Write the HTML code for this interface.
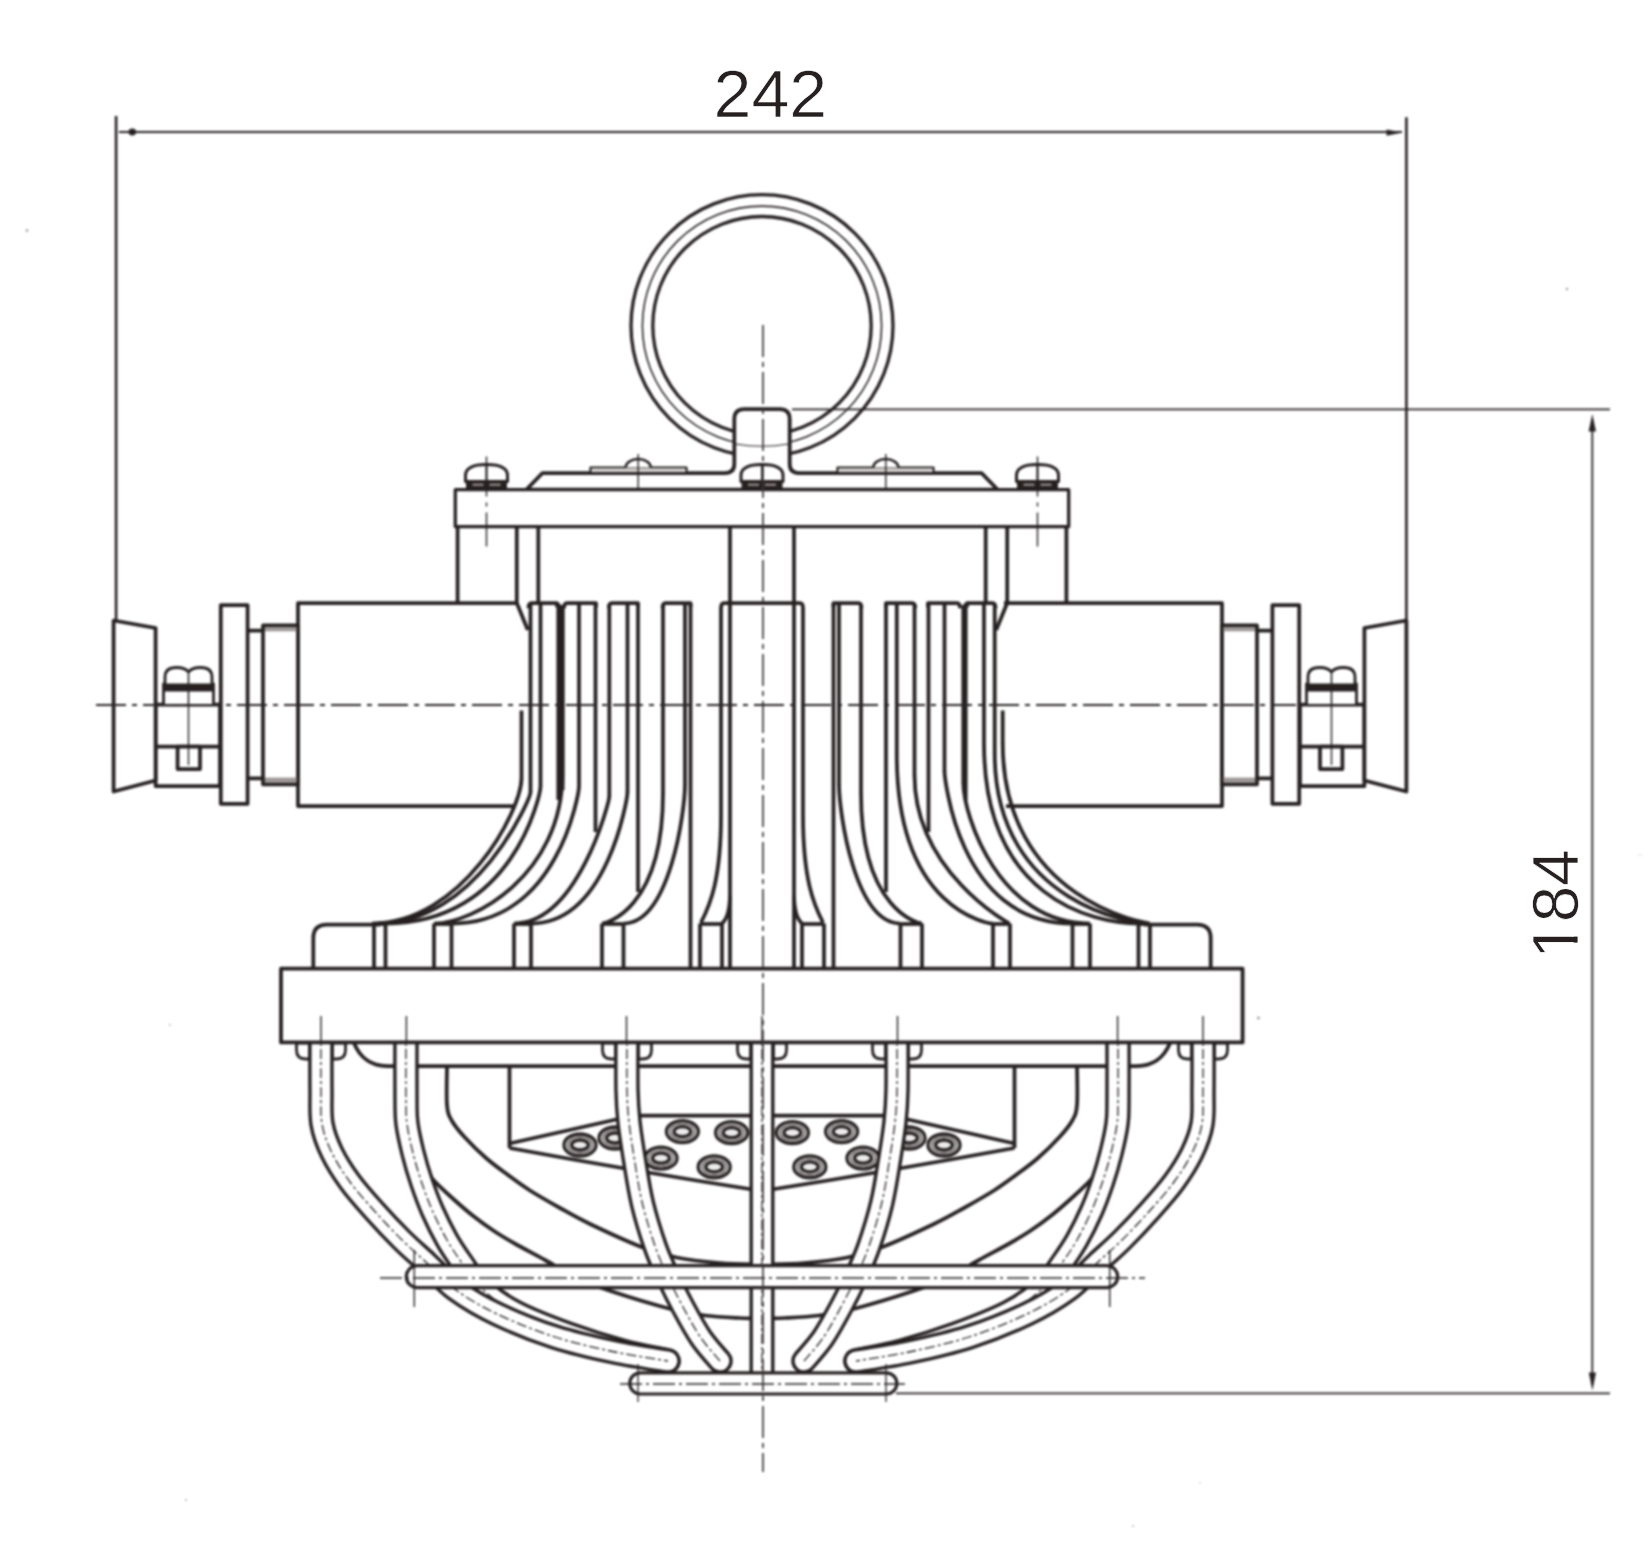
<!DOCTYPE html>
<html><head><meta charset="utf-8"><title>drawing</title>
<style>html,body{margin:0;padding:0;background:#fff;}svg{display:block;}</style></head>
<body><svg width="1650" height="1552" viewBox="0 0 1650 1552">
<defs><filter id="soft" x="0" y="0" width="1650" height="1552" filterUnits="userSpaceOnUse" color-interpolation-filters="sRGB"><feGaussianBlur stdDeviation="0.8"/></filter></defs>
<rect width="1650" height="1552" fill="#fff"/>
<g stroke="#262021" stroke-linecap="butt" stroke-linejoin="round" fill="none" filter="url(#soft)">
<circle cx="27" cy="230.5" r="1.3" fill="#9a9595" stroke="none"/><circle cx="1567" cy="289" r="1.2" fill="#a09a9a" stroke="none"/><circle cx="186" cy="1500" r="1.0" fill="#b0abab" stroke="none"/><circle cx="1200" cy="1483" r="0.8" fill="#bbb" stroke="none"/><circle cx="1133" cy="1526" r="0.9" fill="#b5b0b0" stroke="none"/><circle cx="1258.5" cy="1018" r="1.3" fill="#8a8585" stroke="none"/><circle cx="1640" cy="855" r="0.8" fill="#c0c0c0" stroke="none"/><circle cx="170" cy="1025" r="0.9" fill="#b0b0b0" stroke="none"/><line x1="119" y1="132" x2="1402" y2="132" stroke-width="2.2" /><ellipse cx="132.3" cy="132" rx="3.8" ry="3.4" fill="#262021" stroke="none"/><polygon points="1402.5,132.6 1386.5,129.6 1386.5,135.8" fill="#262021" stroke="none"/><line x1="116.1" y1="116" x2="116.1" y2="622" stroke-width="2.6" /><line x1="1406.4" y1="117.3" x2="1406.4" y2="621" stroke-width="2.6" /><line x1="792" y1="409.3" x2="1610" y2="409.3" stroke-width="1.7" /><line x1="896" y1="1393.3" x2="1610" y2="1393.3" stroke-width="1.7" /><line x1="1592.3" y1="420" x2="1592.3" y2="1385" stroke-width="1.8" /><polygon points="1592.3,414 1588.6,431.5 1596,431.5" fill="#262021" stroke="none"/><polygon points="1592.4,1390.5 1588.8,1372.5 1596,1372.5" fill="#262021" stroke="none"/><circle cx="762" cy="325.7" r="131" stroke-width="3.3" fill="none"/><circle cx="762" cy="325.7" r="119.6" stroke-width="1.6" fill="none"/><circle cx="762" cy="325.7" r="109.2" stroke-width="3.3" fill="none"/><path d="M526.5,489.5 L542.5,473 L725,473 Q734.3,473 734.3,464 L734.3,419 Q734.3,409 744.3,409 L779.7,409 Q789.7,409 789.7,419 L789.7,464 Q789.7,473 799,473 L981.5,473 L997.5,489.5 Z" stroke-width="3.75" fill="#fff" /><path d="M735.5,444 Q762,448.5 788.5,444" stroke-width="1.2" fill="none" /><rect x="590.5" y="467.5" width="96" height="5.5" stroke-width="2.2" fill="#fff" /><line x1="592.5" y1="470.5" x2="684.5" y2="470.5" stroke-width="1.2" stroke="#9a9290"/><path d="M625.7,467.5 A12.5,8.5 0 0 1 650.7,467.5" stroke-width="2.6" fill="#fff" /><line x1="638.2" y1="454" x2="638.2" y2="506" stroke-width="1.4" /><rect x="837.5" y="467.5" width="96" height="5.5" stroke-width="2.2" fill="#fff" /><line x1="839.5" y1="470.5" x2="931.5" y2="470.5" stroke-width="1.2" stroke="#9a9290"/><path d="M873.3,467.5 A12.5,8.5 0 0 1 898.3,467.5" stroke-width="2.6" fill="#fff" /><line x1="885.8" y1="454" x2="885.8" y2="506" stroke-width="1.4" /><rect x="455.3" y="489.7" width="613.4" height="37" stroke-width="3.3" fill="#fff" /><path d="M465.5,481.5 L465.5,475.5 Q465.5,464.5 486.5,464.5 Q507.5,464.5 507.5,475.5 L507.5,481.5 Z" stroke-width="3.0" fill="#fff" /><rect x="466" y="480.5" width="41" height="9" stroke-width="0" fill="#262021" stroke="none"/><rect x="472.5" y="483.5" width="11" height="2.5" stroke-width="0" fill="#8a8280" stroke="none"/><rect x="489.5" y="483.5" width="11" height="2.5" stroke-width="0" fill="#8a8280" stroke="none"/><line x1="486.5" y1="463.5" x2="486.5" y2="481.5" stroke-width="2.0" /><line x1="486.5" y1="456.5" x2="486.5" y2="546.5" stroke-width="1.4" stroke-dasharray="40 6 4 6 60"/><path d="M1016.5,481.5 L1016.5,475.5 Q1016.5,464.5 1037.5,464.5 Q1058.5,464.5 1058.5,475.5 L1058.5,481.5 Z" stroke-width="3.0" fill="#fff" /><rect x="1017" y="480.5" width="41" height="9" stroke-width="0" fill="#262021" stroke="none"/><rect x="1023.5" y="483.5" width="11" height="2.5" stroke-width="0" fill="#8a8280" stroke="none"/><rect x="1040.5" y="483.5" width="11" height="2.5" stroke-width="0" fill="#8a8280" stroke="none"/><line x1="1037.5" y1="463.5" x2="1037.5" y2="481.5" stroke-width="2.0" /><line x1="1037.5" y1="456.5" x2="1037.5" y2="546.5" stroke-width="1.4" stroke-dasharray="40 6 4 6 60"/><path d="M741,481.5 L741,475.5 Q741,464.5 762,464.5 Q783,464.5 783,475.5 L783,481.5 Z" stroke-width="3.0" fill="#fff" /><rect x="741.5" y="480.5" width="41" height="9" stroke-width="0" fill="#262021" stroke="none"/><rect x="748" y="483.5" width="11" height="2.5" stroke-width="0" fill="#8a8280" stroke="none"/><rect x="765" y="483.5" width="11" height="2.5" stroke-width="0" fill="#8a8280" stroke="none"/><line x1="762" y1="463.5" x2="762" y2="481.5" stroke-width="2.0" /><line x1="457.6" y1="527" x2="457.6" y2="603" stroke-width="3.75" /><path d="M516.8,527 L516.8,603 L527.8,630" stroke-width="3.75" fill="none" /><line x1="538.3" y1="527" x2="538.3" y2="603" stroke-width="3.75" /><line x1="730" y1="527" x2="730" y2="968" stroke-width="3.75" /><path d="M528.5,608.2 Q528.5,603.2 531.5,603.2 L557,603.2 L557,607.2" stroke-width="3.75" fill="none" /><path d="M564,608.2 Q564,603.2 567,603.2 L596,603.2 L596,607.2" stroke-width="3.75" fill="none" /><path d="M608.8,608.2 Q608.8,603.2 611.8,603.2 L638,603.2 L638,607.2" stroke-width="3.75" fill="none" /><path d="M662.5,608.2 Q662.5,603.2 665.5,603.2 L690.5,603.2 L690.5,607.2" stroke-width="3.75" fill="none" /><path d="M721,608.2 Q721,603.2 724,603.2 L762,603.2" stroke-width="3.75" fill="none" /><line x1="558.3" y1="603" x2="558.3" y2="800" stroke-width="3.75" /><line x1="595.5" y1="603" x2="595.5" y2="832" stroke-width="3.75" /><line x1="638" y1="603" x2="638" y2="892" stroke-width="3.75" /><line x1="690.5" y1="603" x2="690.5" y2="968" stroke-width="3.75" /><path d="M721,608 L721,815 C721,880 710,905 701,922.5" stroke-width="3.75" fill="none" /><path d="M730,896 Q729.5,917 722,923.5" stroke-width="3.75" fill="none" /><path d="M313.3,968 L313.3,938 Q313.3,924.5 327,924.5 L380,924.5" stroke-width="3.75" fill="none" /><line x1="374" y1="923.5" x2="374" y2="968" stroke-width="3.75" /><line x1="385.5" y1="923.5" x2="385.5" y2="968" stroke-width="3.75" /><line x1="374" y1="924" x2="385.5" y2="924" stroke-width="3.75" /><line x1="434" y1="923.5" x2="434" y2="968" stroke-width="3.75" /><line x1="451.5" y1="923.5" x2="451.5" y2="968" stroke-width="3.75" /><line x1="434" y1="924" x2="451.5" y2="924" stroke-width="3.75" /><line x1="514" y1="923.5" x2="514" y2="968" stroke-width="3.75" /><line x1="531" y1="923.5" x2="531" y2="968" stroke-width="3.75" /><line x1="514" y1="924" x2="531" y2="924" stroke-width="3.75" /><line x1="602" y1="923.5" x2="602" y2="968" stroke-width="3.75" /><line x1="623.5" y1="923.5" x2="623.5" y2="968" stroke-width="3.75" /><line x1="602" y1="924" x2="623.5" y2="924" stroke-width="3.75" /><line x1="700" y1="923.5" x2="700" y2="968" stroke-width="3.75" /><line x1="722" y1="923.5" x2="722" y2="968" stroke-width="3.75" /><line x1="700" y1="924" x2="722" y2="924" stroke-width="3.75" /><g transform="matrix(-1 0 0 1 1524 0)"><line x1="457.6" y1="527" x2="457.6" y2="603" stroke-width="3.75" /><path d="M516.8,527 L516.8,603 L527.8,630" stroke-width="3.75" fill="none" /><line x1="538.3" y1="527" x2="538.3" y2="603" stroke-width="3.75" /><line x1="730" y1="527" x2="730" y2="968" stroke-width="3.75" /><path d="M528.5,608.2 Q528.5,603.2 531.5,603.2 L557,603.2 L557,607.2" stroke-width="3.75" fill="none" /><path d="M564,608.2 Q564,603.2 567,603.2 L596,603.2 L596,607.2" stroke-width="3.75" fill="none" /><path d="M608.8,608.2 Q608.8,603.2 611.8,603.2 L638,603.2 L638,607.2" stroke-width="3.75" fill="none" /><path d="M662.5,608.2 Q662.5,603.2 665.5,603.2 L690.5,603.2 L690.5,607.2" stroke-width="3.75" fill="none" /><path d="M721,608.2 Q721,603.2 724,603.2 L762,603.2" stroke-width="3.75" fill="none" /><line x1="558.3" y1="603" x2="558.3" y2="800" stroke-width="3.75" /><line x1="595.5" y1="603" x2="595.5" y2="832" stroke-width="3.75" /><line x1="638" y1="603" x2="638" y2="892" stroke-width="3.75" /><line x1="690.5" y1="603" x2="690.5" y2="968" stroke-width="3.75" /><path d="M721,608 L721,815 C721,880 710,905 701,922.5" stroke-width="3.75" fill="none" /><path d="M730,896 Q729.5,917 722,923.5" stroke-width="3.75" fill="none" /><path d="M313.3,968 L313.3,938 Q313.3,924.5 327,924.5 L380,924.5" stroke-width="3.75" fill="none" /><line x1="374" y1="923.5" x2="374" y2="968" stroke-width="3.75" /><line x1="385.5" y1="923.5" x2="385.5" y2="968" stroke-width="3.75" /><line x1="374" y1="924" x2="385.5" y2="924" stroke-width="3.75" /><line x1="434" y1="923.5" x2="434" y2="968" stroke-width="3.75" /><line x1="451.5" y1="923.5" x2="451.5" y2="968" stroke-width="3.75" /><line x1="434" y1="924" x2="451.5" y2="924" stroke-width="3.75" /><line x1="514" y1="923.5" x2="514" y2="968" stroke-width="3.75" /><line x1="531" y1="923.5" x2="531" y2="968" stroke-width="3.75" /><line x1="514" y1="924" x2="531" y2="924" stroke-width="3.75" /><line x1="602" y1="923.5" x2="602" y2="968" stroke-width="3.75" /><line x1="623.5" y1="923.5" x2="623.5" y2="968" stroke-width="3.75" /><line x1="602" y1="924" x2="623.5" y2="924" stroke-width="3.75" /><line x1="700" y1="923.5" x2="700" y2="968" stroke-width="3.75" /><line x1="722" y1="923.5" x2="722" y2="968" stroke-width="3.75" /><line x1="700" y1="924" x2="722" y2="924" stroke-width="3.75" /></g><line x1="521.5" y1="710.5" x2="521.5" y2="778.4" stroke-width="3.75" /><path d="M521.5,777.9 C521.5,811.2 461.3,923.5 372,923.5" stroke-width="3.75" fill="none" /><line x1="530.5" y1="605" x2="530.5" y2="792.2" stroke-width="3.75" /><path d="M530.5,791.7 C530.5,799.6 475.9,923.5 378,923.5" stroke-width="3.75" fill="none" /><line x1="540.5" y1="605" x2="540.5" y2="786.7" stroke-width="3.75" /><path d="M540.5,786.2 C540.5,794.4 513.3,923.5 386,923.5" stroke-width="3.75" fill="none" /><line x1="562.5" y1="605" x2="562.5" y2="773.8" stroke-width="3.75" /><path d="M562.5,773.3 C562.5,875.3 472.9,923.5 434,923.5" stroke-width="3.75" fill="none" /><line x1="579" y1="605" x2="579" y2="786.8" stroke-width="3.75" /><path d="M579,786.3 C579,793.2 557.9,923.5 452,923.5" stroke-width="3.75" fill="none" /><line x1="609.3" y1="605" x2="609.3" y2="796.6" stroke-width="3.75" /><path d="M609.3,796.1 C609.3,802.5 577.7,923.5 514,923.5" stroke-width="3.75" fill="none" /><line x1="627.5" y1="605" x2="627.5" y2="792.2" stroke-width="3.75" /><path d="M627.5,791.7 C627.5,798.8 607.3,923.5 531,923.5" stroke-width="3.75" fill="none" /><line x1="663" y1="605" x2="663" y2="793.5" stroke-width="3.75" /><path d="M663,793 C663,911.2 605,923.5 602,923.5" stroke-width="3.75" fill="none" /><line x1="685" y1="605" x2="685" y2="785" stroke-width="3.75" /><path d="M685,784.5 C685,810.6 669.9,923.5 623.5,923.5" stroke-width="3.75" fill="none" /><line x1="1002.7" y1="710.5" x2="1002.7" y2="743.6" stroke-width="3.75" /><path d="M1002.7,743.1 C1002.7,900.2 1147.1,923.5 1150,923.5" stroke-width="3.75" fill="none" /><line x1="994.7" y1="605" x2="994.7" y2="753.9" stroke-width="3.75" /><path d="M994.7,753.4 C994.7,908.5 1141.9,923.5 1146,923.5" stroke-width="3.75" fill="none" /><line x1="984" y1="605" x2="984" y2="744" stroke-width="3.75" /><path d="M984,743.5 C984,897.2 1090.7,923.5 1140,923.5" stroke-width="3.75" fill="none" /><line x1="963.3" y1="605" x2="963.3" y2="782.5" stroke-width="3.75" /><path d="M963.3,782 C963.3,817.1 999.8,923.5 1090,923.5" stroke-width="3.75" fill="none" /><line x1="944.5" y1="605" x2="944.5" y2="771.2" stroke-width="3.75" /><path d="M944.5,770.7 C944.5,773.9 956.4,923.5 1072.5,923.5" stroke-width="3.75" fill="none" /><line x1="914.5" y1="605" x2="914.5" y2="775.4" stroke-width="3.75" /><path d="M914.5,774.9 C914.5,871.2 1008.1,923.5 1010,923.5" stroke-width="3.75" fill="none" /><line x1="896.8" y1="605" x2="896.8" y2="755" stroke-width="3.75" /><path d="M896.8,754.5 C896.8,911.7 989.6,923.5 993,923.5" stroke-width="3.75" fill="none" /><line x1="861" y1="605" x2="861" y2="793.5" stroke-width="3.75" /><path d="M861,793 C861,911.2 919,923.5 922,923.5" stroke-width="3.75" fill="none" /><line x1="839" y1="605" x2="839" y2="785" stroke-width="3.75" /><path d="M839,784.5 C839,810.6 854.1,923.5 900.5,923.5" stroke-width="3.75" fill="none" /><rect x="558.3" y="605" width="6.2" height="185" stroke-width="0" fill="#262021" stroke="none"/><path d="M516,603 L298,603 L298,806 L514,806" stroke-width="3.75" fill="none" /><rect x="263" y="625.3" width="35" height="159" stroke-width="3.75" fill="#fff" /><rect x="265" y="627.3" width="31.5" height="4" stroke-width="0" fill="#9d9797" stroke="none"/><rect x="265" y="777.6" width="31.5" height="4.4" stroke-width="0" fill="#9d9797" stroke="none"/><path d="M263,630.5 L247.6,630.5 M247.6,778.4 L263,778.4" stroke-width="3.75" fill="none" /><rect x="220.8" y="605.2" width="26.8" height="198.6" stroke-width="3.75" fill="#fff" /><rect x="155.6" y="704.5" width="64.4" height="81.5" stroke-width="3.75" fill="#fff" /><line x1="155.6" y1="746.5" x2="220" y2="746.5" stroke-width="3.75" /><rect x="177.6" y="746.5" width="22.4" height="22.5" stroke-width="3.75" fill="#fff" /><line x1="188.5" y1="704.5" x2="188.5" y2="765" stroke-width="1.4" /><path d="M113.6,620.5 L155.6,628 L155.6,780.5 L113.6,791.5 Z" stroke-width="3.75" fill="#fff" /><path d="M163.5,704 L163.5,684 L165,684 L165,677 Q165,667.5 176.5,667.5 Q185,667.5 188.5,672 Q192,667.5 200.5,667.5 Q212,667.5 212,677 L212,684 L213.5,684 L213.5,704" stroke-width="2.8" fill="#fff" /><rect x="164" y="683.5" width="49" height="8" stroke-width="0" fill="#262021" stroke="none"/><line x1="188.5" y1="670" x2="188.5" y2="704" stroke-width="1.6" /><g transform="matrix(-1 0 0 1 1520 0)"><path d="M516,603 L298,603 L298,806 L514,806" stroke-width="3.75" fill="none" /><rect x="263" y="625.3" width="35" height="159" stroke-width="3.75" fill="#fff" /><rect x="265" y="627.3" width="31.5" height="4" stroke-width="0" fill="#9d9797" stroke="none"/><rect x="265" y="777.6" width="31.5" height="4.4" stroke-width="0" fill="#9d9797" stroke="none"/><path d="M263,630.5 L247.6,630.5 M247.6,778.4 L263,778.4" stroke-width="3.75" fill="none" /><rect x="220.8" y="605.2" width="26.8" height="198.6" stroke-width="3.75" fill="#fff" /><rect x="155.6" y="704.5" width="64.4" height="81.5" stroke-width="3.75" fill="#fff" /><line x1="155.6" y1="746.5" x2="220" y2="746.5" stroke-width="3.75" /><rect x="177.6" y="746.5" width="22.4" height="22.5" stroke-width="3.75" fill="#fff" /><line x1="188.5" y1="704.5" x2="188.5" y2="765" stroke-width="1.4" /><path d="M113.6,620.5 L155.6,628 L155.6,780.5 L113.6,791.5 Z" stroke-width="3.75" fill="#fff" /><path d="M163.5,704 L163.5,684 L165,684 L165,677 Q165,667.5 176.5,667.5 Q185,667.5 188.5,672 Q192,667.5 200.5,667.5 Q212,667.5 212,677 L212,684 L213.5,684 L213.5,704" stroke-width="2.8" fill="#fff" /><rect x="164" y="683.5" width="49" height="8" stroke-width="0" fill="#262021" stroke="none"/><line x1="188.5" y1="670" x2="188.5" y2="704" stroke-width="1.6" /></g><path d="M354,1043 C360,1058 372,1066 387,1066 L762,1066" stroke-width="3.75" fill="none" /><path d="M447,1066 C447,1072.5 446.2,1095.8 447,1105 C447.8,1114.2 449.1,1115.7 452,1121 C454.9,1126.3 458.8,1130.8 464.5,1137 C470.2,1143.2 478.8,1151.7 486,1158 C493.2,1164.3 500.7,1169.6 508,1175 C515.3,1180.4 521.3,1185 530,1190.5 C538.7,1196 550,1202.4 560,1208 C570,1213.6 576.4,1217.5 590,1224 C603.6,1230.5 627.1,1241.4 641.5,1247 C655.9,1252.6 663.5,1254.8 676.6,1257.5 C689.7,1260.2 705.8,1261.8 720,1263 C734.2,1264.2 755,1264.2 762,1264.5" stroke-width="3.75" fill="none" /><path d="M424,1166 C425.4,1168.2 428.2,1174 432.5,1179 C436.8,1184 443.4,1190 450,1196 C456.6,1202 464.7,1209.2 472,1215 C479.3,1220.8 486.8,1226.2 494,1231 C501.2,1235.8 507,1239.2 515.5,1244 C524,1248.8 535.1,1254.5 545,1260 C554.9,1265.5 564.1,1271.8 575,1277 C585.9,1282.2 594.4,1285.6 610.6,1291 C626.9,1296.4 656.8,1305.4 672.5,1309.5 C688.2,1313.6 693.8,1314.1 705,1315.5 C716.2,1316.9 730.5,1317.5 740,1318 C749.5,1318.5 758.3,1318.4 762,1318.5" stroke-width="3.75" fill="none" /><line x1="509.5" y1="1066" x2="509.5" y2="1148" stroke-width="3.75" /><path d="M509.5,1143.5 L625,1117.5 Q632,1115.7 640,1115.7 L762,1115.7" stroke-width="3.75" fill="none" /><path d="M509.5,1148 Q640,1172 762,1191" stroke-width="3.75" fill="none" /><ellipse cx="580" cy="1145" rx="16" ry="11" stroke-width="3.3" fill="#fff"/><ellipse cx="580" cy="1145" rx="12.3" ry="8.1" stroke-width="1.8" stroke="#6a6262" fill="none"/><ellipse cx="580" cy="1145" rx="8.5" ry="5" stroke-width="3.3" fill="#ecebeb"/><ellipse cx="615" cy="1138" rx="16" ry="11" stroke-width="3.3" fill="#fff"/><ellipse cx="615" cy="1138" rx="12.3" ry="8.1" stroke-width="1.8" stroke="#6a6262" fill="none"/><ellipse cx="615" cy="1138" rx="8.5" ry="5" stroke-width="3.3" fill="#ecebeb"/><ellipse cx="682.4" cy="1131.6" rx="16" ry="11" stroke-width="3.3" fill="#fff"/><ellipse cx="682.4" cy="1131.6" rx="12.3" ry="8.1" stroke-width="1.8" stroke="#6a6262" fill="none"/><ellipse cx="682.4" cy="1131.6" rx="8.5" ry="5" stroke-width="3.3" fill="#ecebeb"/><ellipse cx="731.6" cy="1132.7" rx="16" ry="11" stroke-width="3.3" fill="#fff"/><ellipse cx="731.6" cy="1132.7" rx="12.3" ry="8.1" stroke-width="1.8" stroke="#6a6262" fill="none"/><ellipse cx="731.6" cy="1132.7" rx="8.5" ry="5" stroke-width="3.3" fill="#ecebeb"/><ellipse cx="661" cy="1158.2" rx="16" ry="11" stroke-width="3.3" fill="#fff"/><ellipse cx="661" cy="1158.2" rx="12.3" ry="8.1" stroke-width="1.8" stroke="#6a6262" fill="none"/><ellipse cx="661" cy="1158.2" rx="8.5" ry="5" stroke-width="3.3" fill="#ecebeb"/><ellipse cx="714.2" cy="1166.9" rx="16" ry="11" stroke-width="3.3" fill="#fff"/><ellipse cx="714.2" cy="1166.9" rx="12.3" ry="8.1" stroke-width="1.8" stroke="#6a6262" fill="none"/><ellipse cx="714.2" cy="1166.9" rx="8.5" ry="5" stroke-width="3.3" fill="#ecebeb"/><g transform="matrix(-1 0 0 1 1524 0)"><path d="M354,1043 C360,1058 372,1066 387,1066 L762,1066" stroke-width="3.75" fill="none" /><path d="M447,1066 C447,1072.5 446.2,1095.8 447,1105 C447.8,1114.2 449.1,1115.7 452,1121 C454.9,1126.3 458.8,1130.8 464.5,1137 C470.2,1143.2 478.8,1151.7 486,1158 C493.2,1164.3 500.7,1169.6 508,1175 C515.3,1180.4 521.3,1185 530,1190.5 C538.7,1196 550,1202.4 560,1208 C570,1213.6 576.4,1217.5 590,1224 C603.6,1230.5 627.1,1241.4 641.5,1247 C655.9,1252.6 663.5,1254.8 676.6,1257.5 C689.7,1260.2 705.8,1261.8 720,1263 C734.2,1264.2 755,1264.2 762,1264.5" stroke-width="3.75" fill="none" /><path d="M424,1166 C425.4,1168.2 428.2,1174 432.5,1179 C436.8,1184 443.4,1190 450,1196 C456.6,1202 464.7,1209.2 472,1215 C479.3,1220.8 486.8,1226.2 494,1231 C501.2,1235.8 507,1239.2 515.5,1244 C524,1248.8 535.1,1254.5 545,1260 C554.9,1265.5 564.1,1271.8 575,1277 C585.9,1282.2 594.4,1285.6 610.6,1291 C626.9,1296.4 656.8,1305.4 672.5,1309.5 C688.2,1313.6 693.8,1314.1 705,1315.5 C716.2,1316.9 730.5,1317.5 740,1318 C749.5,1318.5 758.3,1318.4 762,1318.5" stroke-width="3.75" fill="none" /><line x1="509.5" y1="1066" x2="509.5" y2="1148" stroke-width="3.75" /><path d="M509.5,1143.5 L625,1117.5 Q632,1115.7 640,1115.7 L762,1115.7" stroke-width="3.75" fill="none" /><path d="M509.5,1148 Q640,1172 762,1191" stroke-width="3.75" fill="none" /><ellipse cx="580" cy="1145" rx="16" ry="11" stroke-width="3.3" fill="#fff"/><ellipse cx="580" cy="1145" rx="12.3" ry="8.1" stroke-width="1.8" stroke="#6a6262" fill="none"/><ellipse cx="580" cy="1145" rx="8.5" ry="5" stroke-width="3.3" fill="#ecebeb"/><ellipse cx="615" cy="1138" rx="16" ry="11" stroke-width="3.3" fill="#fff"/><ellipse cx="615" cy="1138" rx="12.3" ry="8.1" stroke-width="1.8" stroke="#6a6262" fill="none"/><ellipse cx="615" cy="1138" rx="8.5" ry="5" stroke-width="3.3" fill="#ecebeb"/><ellipse cx="682.4" cy="1131.6" rx="16" ry="11" stroke-width="3.3" fill="#fff"/><ellipse cx="682.4" cy="1131.6" rx="12.3" ry="8.1" stroke-width="1.8" stroke="#6a6262" fill="none"/><ellipse cx="682.4" cy="1131.6" rx="8.5" ry="5" stroke-width="3.3" fill="#ecebeb"/><ellipse cx="731.6" cy="1132.7" rx="16" ry="11" stroke-width="3.3" fill="#fff"/><ellipse cx="731.6" cy="1132.7" rx="12.3" ry="8.1" stroke-width="1.8" stroke="#6a6262" fill="none"/><ellipse cx="731.6" cy="1132.7" rx="8.5" ry="5" stroke-width="3.3" fill="#ecebeb"/><ellipse cx="661" cy="1158.2" rx="16" ry="11" stroke-width="3.3" fill="#fff"/><ellipse cx="661" cy="1158.2" rx="12.3" ry="8.1" stroke-width="1.8" stroke="#6a6262" fill="none"/><ellipse cx="661" cy="1158.2" rx="8.5" ry="5" stroke-width="3.3" fill="#ecebeb"/><ellipse cx="714.2" cy="1166.9" rx="16" ry="11" stroke-width="3.3" fill="#fff"/><ellipse cx="714.2" cy="1166.9" rx="12.3" ry="8.1" stroke-width="1.8" stroke="#6a6262" fill="none"/><ellipse cx="714.2" cy="1166.9" rx="8.5" ry="5" stroke-width="3.3" fill="#ecebeb"/></g><path d="M309.5,1043 L296.5,1043 L296.5,1050 Q296.5,1059 305.5,1059 L309.5,1059 Z" stroke-width="2.8" fill="#fff" /><path d="M332.5,1043 L345.5,1043 L345.5,1050 Q345.5,1059 336.5,1059 L332.5,1059 Z" stroke-width="2.8" fill="#fff" /><path d="M615.5,1043 L602.5,1043 L602.5,1050 Q602.5,1059 611.5,1059 L615.5,1059 Z" stroke-width="2.8" fill="#fff" /><path d="M638.5,1043 L651.5,1043 L651.5,1050 Q651.5,1059 642.5,1059 L638.5,1059 Z" stroke-width="2.8" fill="#fff" /><path d="M406,1030 C406,1041.7 405.8,1084.3 406,1100 C406.2,1115.7 405.8,1115.2 407,1124 C408.2,1132.8 410.6,1143.3 413,1153 C415.4,1162.7 418.2,1172.3 421.5,1182 C424.8,1191.7 428.2,1201.3 432.5,1211 C436.8,1220.7 442.1,1231.3 447,1240 C451.9,1248.7 456.2,1254.8 462,1263 C467.8,1271.2 473.2,1280.8 482,1289 C490.8,1297.2 500.7,1304.5 515,1312 C529.3,1319.5 550.2,1327.5 568,1334 C585.8,1340.5 605.3,1346.5 622,1351 C638.7,1355.5 660.3,1359.3 668,1361" stroke-width="25.5" fill="none" stroke-linecap="round"/><path d="M406,1030 C406,1041.7 405.8,1084.3 406,1100 C406.2,1115.7 405.8,1115.2 407,1124 C408.2,1132.8 410.6,1143.3 413,1153 C415.4,1162.7 418.2,1172.3 421.5,1182 C424.8,1191.7 428.2,1201.3 432.5,1211 C436.8,1220.7 442.1,1231.3 447,1240 C451.9,1248.7 456.2,1254.8 462,1263 C467.8,1271.2 473.2,1280.8 482,1289 C490.8,1297.2 500.7,1304.5 515,1312 C529.3,1319.5 550.2,1327.5 568,1334 C585.8,1340.5 605.3,1346.5 622,1351 C638.7,1355.5 660.3,1359.3 668,1361" stroke-width="18.7" fill="none" stroke="#fff" stroke-linecap="round"/><path d="M406,1030 C406,1041.7 405.8,1084.3 406,1100 C406.2,1115.7 405.8,1115.2 407,1124 C408.2,1132.8 410.6,1143.3 413,1153 C415.4,1162.7 418.2,1172.3 421.5,1182 C424.8,1191.7 428.2,1201.3 432.5,1211 C436.8,1220.7 442.1,1231.3 447,1240 C451.9,1248.7 456.2,1254.8 462,1263 C467.8,1271.2 473.2,1280.8 482,1289 C490.8,1297.2 500.7,1304.5 515,1312 C529.3,1319.5 550.2,1327.5 568,1334 C585.8,1340.5 605.3,1346.5 622,1351 C638.7,1355.5 660.3,1359.3 668,1361" stroke-width="1.3" fill="none" stroke-dasharray="10 3 3 3"/><path d="M321,1030 C321,1040 320.8,1074.3 321,1090 C321.2,1105.7 320.2,1113.5 322,1124 C323.8,1134.5 327.3,1143.3 332,1153 C336.7,1162.7 342.9,1172.3 350,1182 C357.1,1191.7 365.8,1201.3 374.5,1211 C383.2,1220.7 393.2,1231.3 402,1240 C410.8,1248.7 418,1254.7 427,1263 C436,1271.3 444.3,1281.5 456,1290 C467.7,1298.5 480.5,1306.2 497,1314 C513.5,1321.8 535.3,1330.7 555,1337 C574.7,1343.3 596.2,1348 615,1352 C633.8,1356 659.2,1359.5 668,1361" stroke-width="25.5" fill="none" stroke-linecap="round"/><path d="M321,1030 C321,1040 320.8,1074.3 321,1090 C321.2,1105.7 320.2,1113.5 322,1124 C323.8,1134.5 327.3,1143.3 332,1153 C336.7,1162.7 342.9,1172.3 350,1182 C357.1,1191.7 365.8,1201.3 374.5,1211 C383.2,1220.7 393.2,1231.3 402,1240 C410.8,1248.7 418,1254.7 427,1263 C436,1271.3 444.3,1281.5 456,1290 C467.7,1298.5 480.5,1306.2 497,1314 C513.5,1321.8 535.3,1330.7 555,1337 C574.7,1343.3 596.2,1348 615,1352 C633.8,1356 659.2,1359.5 668,1361" stroke-width="18.7" fill="none" stroke="#fff" stroke-linecap="round"/><path d="M321,1030 C321,1040 320.8,1074.3 321,1090 C321.2,1105.7 320.2,1113.5 322,1124 C323.8,1134.5 327.3,1143.3 332,1153 C336.7,1162.7 342.9,1172.3 350,1182 C357.1,1191.7 365.8,1201.3 374.5,1211 C383.2,1220.7 393.2,1231.3 402,1240 C410.8,1248.7 418,1254.7 427,1263 C436,1271.3 444.3,1281.5 456,1290 C467.7,1298.5 480.5,1306.2 497,1314 C513.5,1321.8 535.3,1330.7 555,1337 C574.7,1343.3 596.2,1348 615,1352 C633.8,1356 659.2,1359.5 668,1361" stroke-width="1.3" fill="none" stroke-dasharray="10 3 3 3"/><path d="M627,1030 C627,1040 626.7,1074.7 627,1090 C627.3,1105.3 627.7,1109.8 629,1122 C630.3,1134.2 632.8,1149.3 635,1163 C637.2,1176.7 639.2,1190.2 642.5,1204 C645.8,1217.8 650.8,1233.8 655,1246 C659.2,1258.2 663.3,1266.8 668,1277 C672.7,1287.2 677.5,1296.8 683,1307 C688.5,1317.2 694.8,1329 701,1338 C707.2,1347 716.8,1357.2 720,1361" stroke-width="25.5" fill="none" stroke-linecap="round"/><path d="M627,1030 C627,1040 626.7,1074.7 627,1090 C627.3,1105.3 627.7,1109.8 629,1122 C630.3,1134.2 632.8,1149.3 635,1163 C637.2,1176.7 639.2,1190.2 642.5,1204 C645.8,1217.8 650.8,1233.8 655,1246 C659.2,1258.2 663.3,1266.8 668,1277 C672.7,1287.2 677.5,1296.8 683,1307 C688.5,1317.2 694.8,1329 701,1338 C707.2,1347 716.8,1357.2 720,1361" stroke-width="18.7" fill="none" stroke="#fff" stroke-linecap="round"/><path d="M627,1030 C627,1040 626.7,1074.7 627,1090 C627.3,1105.3 627.7,1109.8 629,1122 C630.3,1134.2 632.8,1149.3 635,1163 C637.2,1176.7 639.2,1190.2 642.5,1204 C645.8,1217.8 650.8,1233.8 655,1246 C659.2,1258.2 663.3,1266.8 668,1277 C672.7,1287.2 677.5,1296.8 683,1307 C688.5,1317.2 694.8,1329 701,1338 C707.2,1347 716.8,1357.2 720,1361" stroke-width="1.3" fill="none" stroke-dasharray="10 3 3 3"/><g transform="matrix(-1 0 0 1 1524 0)"><path d="M309.5,1043 L296.5,1043 L296.5,1050 Q296.5,1059 305.5,1059 L309.5,1059 Z" stroke-width="2.8" fill="#fff" /><path d="M332.5,1043 L345.5,1043 L345.5,1050 Q345.5,1059 336.5,1059 L332.5,1059 Z" stroke-width="2.8" fill="#fff" /><path d="M615.5,1043 L602.5,1043 L602.5,1050 Q602.5,1059 611.5,1059 L615.5,1059 Z" stroke-width="2.8" fill="#fff" /><path d="M638.5,1043 L651.5,1043 L651.5,1050 Q651.5,1059 642.5,1059 L638.5,1059 Z" stroke-width="2.8" fill="#fff" /><path d="M406,1030 C406,1041.7 405.8,1084.3 406,1100 C406.2,1115.7 405.8,1115.2 407,1124 C408.2,1132.8 410.6,1143.3 413,1153 C415.4,1162.7 418.2,1172.3 421.5,1182 C424.8,1191.7 428.2,1201.3 432.5,1211 C436.8,1220.7 442.1,1231.3 447,1240 C451.9,1248.7 456.2,1254.8 462,1263 C467.8,1271.2 473.2,1280.8 482,1289 C490.8,1297.2 500.7,1304.5 515,1312 C529.3,1319.5 550.2,1327.5 568,1334 C585.8,1340.5 605.3,1346.5 622,1351 C638.7,1355.5 660.3,1359.3 668,1361" stroke-width="25.5" fill="none" stroke-linecap="round"/><path d="M406,1030 C406,1041.7 405.8,1084.3 406,1100 C406.2,1115.7 405.8,1115.2 407,1124 C408.2,1132.8 410.6,1143.3 413,1153 C415.4,1162.7 418.2,1172.3 421.5,1182 C424.8,1191.7 428.2,1201.3 432.5,1211 C436.8,1220.7 442.1,1231.3 447,1240 C451.9,1248.7 456.2,1254.8 462,1263 C467.8,1271.2 473.2,1280.8 482,1289 C490.8,1297.2 500.7,1304.5 515,1312 C529.3,1319.5 550.2,1327.5 568,1334 C585.8,1340.5 605.3,1346.5 622,1351 C638.7,1355.5 660.3,1359.3 668,1361" stroke-width="18.7" fill="none" stroke="#fff" stroke-linecap="round"/><path d="M406,1030 C406,1041.7 405.8,1084.3 406,1100 C406.2,1115.7 405.8,1115.2 407,1124 C408.2,1132.8 410.6,1143.3 413,1153 C415.4,1162.7 418.2,1172.3 421.5,1182 C424.8,1191.7 428.2,1201.3 432.5,1211 C436.8,1220.7 442.1,1231.3 447,1240 C451.9,1248.7 456.2,1254.8 462,1263 C467.8,1271.2 473.2,1280.8 482,1289 C490.8,1297.2 500.7,1304.5 515,1312 C529.3,1319.5 550.2,1327.5 568,1334 C585.8,1340.5 605.3,1346.5 622,1351 C638.7,1355.5 660.3,1359.3 668,1361" stroke-width="1.3" fill="none" stroke-dasharray="10 3 3 3"/><path d="M321,1030 C321,1040 320.8,1074.3 321,1090 C321.2,1105.7 320.2,1113.5 322,1124 C323.8,1134.5 327.3,1143.3 332,1153 C336.7,1162.7 342.9,1172.3 350,1182 C357.1,1191.7 365.8,1201.3 374.5,1211 C383.2,1220.7 393.2,1231.3 402,1240 C410.8,1248.7 418,1254.7 427,1263 C436,1271.3 444.3,1281.5 456,1290 C467.7,1298.5 480.5,1306.2 497,1314 C513.5,1321.8 535.3,1330.7 555,1337 C574.7,1343.3 596.2,1348 615,1352 C633.8,1356 659.2,1359.5 668,1361" stroke-width="25.5" fill="none" stroke-linecap="round"/><path d="M321,1030 C321,1040 320.8,1074.3 321,1090 C321.2,1105.7 320.2,1113.5 322,1124 C323.8,1134.5 327.3,1143.3 332,1153 C336.7,1162.7 342.9,1172.3 350,1182 C357.1,1191.7 365.8,1201.3 374.5,1211 C383.2,1220.7 393.2,1231.3 402,1240 C410.8,1248.7 418,1254.7 427,1263 C436,1271.3 444.3,1281.5 456,1290 C467.7,1298.5 480.5,1306.2 497,1314 C513.5,1321.8 535.3,1330.7 555,1337 C574.7,1343.3 596.2,1348 615,1352 C633.8,1356 659.2,1359.5 668,1361" stroke-width="18.7" fill="none" stroke="#fff" stroke-linecap="round"/><path d="M321,1030 C321,1040 320.8,1074.3 321,1090 C321.2,1105.7 320.2,1113.5 322,1124 C323.8,1134.5 327.3,1143.3 332,1153 C336.7,1162.7 342.9,1172.3 350,1182 C357.1,1191.7 365.8,1201.3 374.5,1211 C383.2,1220.7 393.2,1231.3 402,1240 C410.8,1248.7 418,1254.7 427,1263 C436,1271.3 444.3,1281.5 456,1290 C467.7,1298.5 480.5,1306.2 497,1314 C513.5,1321.8 535.3,1330.7 555,1337 C574.7,1343.3 596.2,1348 615,1352 C633.8,1356 659.2,1359.5 668,1361" stroke-width="1.3" fill="none" stroke-dasharray="10 3 3 3"/><path d="M627,1030 C627,1040 626.7,1074.7 627,1090 C627.3,1105.3 627.7,1109.8 629,1122 C630.3,1134.2 632.8,1149.3 635,1163 C637.2,1176.7 639.2,1190.2 642.5,1204 C645.8,1217.8 650.8,1233.8 655,1246 C659.2,1258.2 663.3,1266.8 668,1277 C672.7,1287.2 677.5,1296.8 683,1307 C688.5,1317.2 694.8,1329 701,1338 C707.2,1347 716.8,1357.2 720,1361" stroke-width="25.5" fill="none" stroke-linecap="round"/><path d="M627,1030 C627,1040 626.7,1074.7 627,1090 C627.3,1105.3 627.7,1109.8 629,1122 C630.3,1134.2 632.8,1149.3 635,1163 C637.2,1176.7 639.2,1190.2 642.5,1204 C645.8,1217.8 650.8,1233.8 655,1246 C659.2,1258.2 663.3,1266.8 668,1277 C672.7,1287.2 677.5,1296.8 683,1307 C688.5,1317.2 694.8,1329 701,1338 C707.2,1347 716.8,1357.2 720,1361" stroke-width="18.7" fill="none" stroke="#fff" stroke-linecap="round"/><path d="M627,1030 C627,1040 626.7,1074.7 627,1090 C627.3,1105.3 627.7,1109.8 629,1122 C630.3,1134.2 632.8,1149.3 635,1163 C637.2,1176.7 639.2,1190.2 642.5,1204 C645.8,1217.8 650.8,1233.8 655,1246 C659.2,1258.2 663.3,1266.8 668,1277 C672.7,1287.2 677.5,1296.8 683,1307 C688.5,1317.2 694.8,1329 701,1338 C707.2,1347 716.8,1357.2 720,1361" stroke-width="1.3" fill="none" stroke-dasharray="10 3 3 3"/></g><path d="M762,1030 L762,1372" stroke-width="25" fill="none" stroke-linecap="round"/><path d="M762,1030 L762,1372" stroke-width="18.2" fill="none" stroke="#fff" stroke-linecap="round"/><path d="M762,1030 L762,1372" stroke-width="1.3" fill="none" stroke-dasharray="10 3 3 3"/><path d="M750.5,1043 L737.5,1043 L737.5,1050 Q737.5,1059 746.5,1059 L750.5,1059 Z" stroke-width="2.8" fill="#fff" /><path d="M773.5,1043 L786.5,1043 L786.5,1050 Q786.5,1059 777.5,1059 L773.5,1059 Z" stroke-width="2.8" fill="#fff" /><rect x="281" y="968.7" width="961.6" height="73.7" stroke-width="3.8" fill="#fff" /><line x1="321" y1="1016" x2="321" y2="1042" stroke-width="1.4" /><line x1="1203" y1="1016" x2="1203" y2="1042" stroke-width="1.4" /><line x1="406.4" y1="1016" x2="406.4" y2="1042" stroke-width="1.4" /><line x1="1117.6" y1="1016" x2="1117.6" y2="1042" stroke-width="1.4" /><line x1="626.5" y1="1016" x2="626.5" y2="1042" stroke-width="1.4" /><line x1="897.5" y1="1016" x2="897.5" y2="1042" stroke-width="1.4" /><line x1="762" y1="1016" x2="762" y2="1042" stroke-width="1.4" /><rect x="406.3" y="1265.7" width="711.4" height="22" rx="11" stroke-width="3.2" fill="#fff" /><line x1="380" y1="1278" x2="1145" y2="1278" stroke-width="1.4" stroke-dasharray="22 4 3 4"/><line x1="414.3" y1="1250" x2="414.3" y2="1307" stroke-width="1.4" /><line x1="1109.7" y1="1250" x2="1109.7" y2="1307" stroke-width="1.4" /><rect x="629.8" y="1372.8" width="267" height="21.2" rx="10.5" stroke-width="3.2" fill="#fff" /><line x1="620" y1="1384" x2="905" y2="1384" stroke-width="1.4" stroke-dasharray="22 4 3 4"/><line x1="638" y1="1364" x2="638" y2="1402" stroke-width="1.3" /><line x1="886" y1="1364" x2="886" y2="1402" stroke-width="1.3" /><line x1="763" y1="325" x2="763" y2="1472" stroke-width="1.7" stroke-dasharray="32 5 5 5" stroke="#3e3637"/><line x1="96" y1="705" x2="1296" y2="705" stroke-width="2.1" stroke-dasharray="30 6 5 6" stroke="#2a2425"/>
</g>
<g><text x="0" y="0" font-size="66.3" text-anchor="middle" fill="#262021" stroke="#fff" stroke-width="0.7" font-family="&quot;Liberation Sans&quot;, sans-serif" transform="translate(770.4,117.1) scale(1.028,1)">242</text><text x="0" y="0" font-size="65.5" text-anchor="middle" fill="#262021" stroke="#fff" stroke-width="0.7" font-family="&quot;Liberation Sans&quot;, sans-serif" transform="translate(1577.8,904) rotate(-90)">184</text><rect x="1572.3" y="924" width="7" height="12.6" fill="#fff" stroke="none"/><rect x="1572.3" y="942.6" width="7" height="13" fill="#fff" stroke="none"/></g></svg></body></html>
